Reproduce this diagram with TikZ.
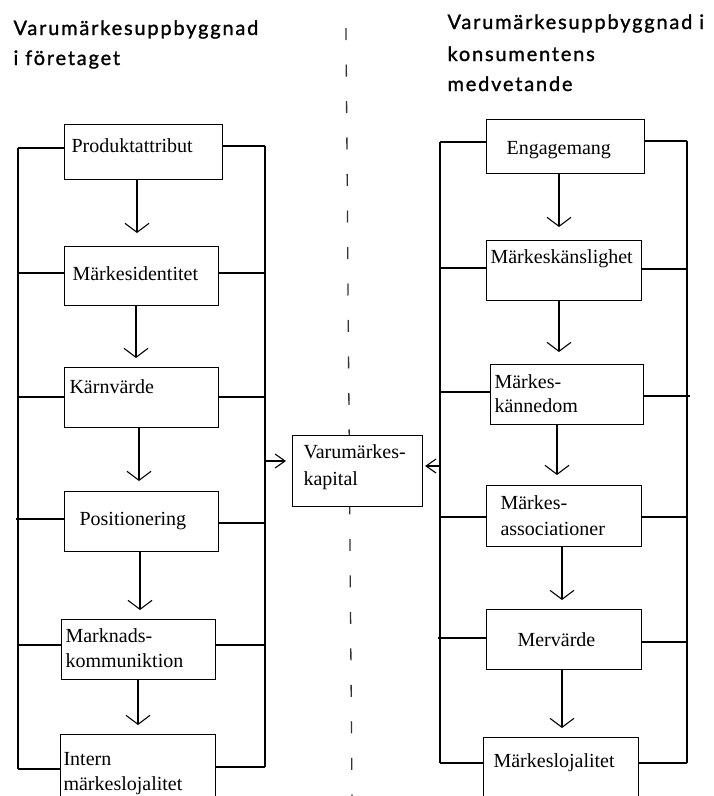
\documentclass[tikz,border=0pt]{standalone}
\usepackage{fontspec}
\setmainfont{Liberation Serif}
\newfontfamily\headfont[LetterSpace=9,FakeBold=1.2]{Lato}
\usetikzlibrary{arrows.meta}
\begin{document}
\begin{tikzpicture}[x=1pt,y=-1pt,
  line width=1.1pt,
  box/.style={draw, fill=white, inner sep=0pt, anchor=north west},
  lbl/.style={anchor=base west, inner sep=0pt, font=\fontsize{20}{24}\selectfont},
  head/.style={anchor=base west, inner sep=0pt, font=\headfont\fontsize{20}{24}\selectfont},
  va/.style={-{Straight Barb[length=9pt,width=24pt]}},
  ha/.style={-{Straight Barb[length=10pt,width=14pt]}}
]
\useasboundingbox (0,0) rectangle (713,796);
\clip (0,0) rectangle (713,796);
% divider
\draw[line width=1.3pt, black!80, dash pattern=on 12pt off 24.5pt] (346,28) -- (352,800);
% headings
\node[head] (hl1) at (13,35) {Varumärkesuppbyggnad};
\node[head] (hl2) at (13,65) {i företaget};
\node[head] (hr1) at (447,29) {Varumärkesuppbyggnad i};
\node[head] (hr2) at (447,61) {konsumentens};
\node[head] (hr3) at (447,91) {medvetande};
% left boxes
\node[box, minimum width=158pt, minimum height=55pt] (b1) at (64,124) {};
\node[box, minimum width=154pt, minimum height=59pt] (b2) at (64,246) {};
\node[box, minimum width=154pt, minimum height=60pt] (b3) at (64,367) {};
\node[box, minimum width=154pt, minimum height=60pt] (b4) at (64,491) {};
\node[box, minimum width=154pt, minimum height=60pt] (b5) at (61,619) {};
\node[box, minimum width=155pt, minimum height=80pt] (b6) at (60,734) {};
\node[lbl] (t1) at (71,152) {Produktattribut};
\node[lbl] (t2) at (72,280) {Märkesidentitet};
\node[lbl] (t3) at (69,393) {Kärnvärde};
\node[lbl] (t4) at (79,525) {Positionering};
\node[lbl] (t5a) at (65,642) {Marknads-};
\node[lbl] (t5b) at (65,667) {kommuniktion};
\node[lbl] (t6a) at (63,765) {Intern};
\node[lbl] (t6b) at (63,790) {märkeslojalitet};
% right boxes
\node[box, minimum width=158pt, minimum height=54pt] (r1) at (486,119) {};
\node[box, minimum width=155pt, minimum height=60pt] (r2) at (486,240) {};
\node[box, minimum width=153pt, minimum height=60pt] (r3) at (490,364) {};
\node[box, minimum width=155pt, minimum height=61pt] (r4) at (486,485) {};
\node[box, minimum width=155pt, minimum height=60pt] (r5) at (486,609) {};
\node[box, minimum width=155pt, minimum height=80pt] (r6) at (483,737) {};
\node[lbl] (s1) at (506,154) {Engagemang};
\node[lbl] (s2) at (490,263) {Märkeskänslighet};
\node[lbl] (s3a) at (494,388) {Märkes-};
\node[lbl] (s3b) at (494,412) {kännedom};
\node[lbl] (s4a) at (500,509) {Märkes-};
\node[lbl] (s4b) at (500,535) {associationer};
\node[lbl] (s5) at (517,646) {Mervärde};
\node[lbl] (s6) at (493,767) {Märkeslojalitet};
% center box
\node[box, minimum width=130pt, minimum height=71pt] (c) at (292,435) {};
\node[lbl] (ca) at (303,458) {Varumärkes-};
\node[lbl] (cb) at (303,485) {kapital};
% rail coordinates left column
\coordinate (LL1) at (18,148);
\coordinate (LL2) at (18,273);
\coordinate (LL3) at (18,397);
\coordinate (LL4) at (16,519);
\coordinate (LL5) at (18,645);
\coordinate (LL6) at (18,769);
\coordinate (LR1) at (265,146);
\coordinate (LR2) at (265,273);
\coordinate (LR3) at (265,397);
\coordinate (LR4) at (265,523);
\coordinate (LR5) at (265,645);
\coordinate (LR6) at (265,767);
\coordinate (LRA) at (265,461);
% rail coordinates right column
\coordinate (RL1) at (440,142);
\coordinate (RL2) at (440,268);
\coordinate (RL3) at (440,392);
\coordinate (RL4) at (440,517);
\coordinate (RL5) at (438,638);
\coordinate (RL6) at (440,763);
\coordinate (RLA) at (440,466);
\coordinate (RR1) at (687,141);
\coordinate (RR2) at (687,269);
\coordinate (RR3) at (690,396);
\coordinate (RR4) at (687,517);
\coordinate (RR5) at (687,642);
\coordinate (RR6) at (687,763);
% rails
\draw (LL1) -- (LL1 |- LL6);
\draw (LR1) -- (LR6);
\draw (RL1) -- (RL6);
\draw (RR1) -- (RR6);
% side links
\foreach \b/\l/\r in {b1/LL1/LR1, b2/LL2/LR2, b3/LL3/LR3, b4/LL4/LR4, b5/LL5/LR5, b6/LL6/LR6}{
  \draw (\l) -- (\b.west |- \l);
  \draw (\b.east |- \r) -- (\r);
}
\foreach \b/\l/\r in {r1/RL1/RR1, r2/RL2/RR2, r3/RL3/RR3, r4/RL4/RR4, r5/RL5/RR5, r6/RL6/RR6}{
  \draw (\l) -- (\b.west |- \l);
  \draw (\b.east |- \r) -- (\r);
}
% vertical arrows left
\draw[va, shorten >=13pt] (b1.south -| 137,0) -- (b2.north -| 137,0);
\draw[va, shorten >=9pt] (b2.south -| 136,0) -- (b3.north -| 136,0);
\draw[va, shorten >=10pt] (b3.south -| 139,0) -- (b4.north -| 139,0);
\draw[va, shorten >=9pt] (b4.south -| 140,0) -- (b5.north -| 140,0);
\draw[va, shorten >=9pt] (b5.south -| 138,0) -- (b6.north -| 138,0);
% vertical arrows right
\draw[va, shorten >=13pt] (r1.south -| 559,0) -- (r2.north -| 559,0);
\draw[va, shorten >=12pt] (r2.south -| 559,0) -- (r3.north -| 559,0);
\draw[va, shorten >=10pt] (r3.south -| 557,0) -- (r4.north -| 557,0);
\draw[va, shorten >=9pt] (r4.south -| 562,0) -- (r5.north -| 562,0);
\draw[va, shorten >=9pt] (r5.south -| 562,0) -- (r6.north -| 562,0);
% arrows to center
\draw[ha, shorten >=6pt] (LRA) -- (c.west |- LRA);
\draw[ha, shorten >=2pt] (RLA) -- (c.east |- RLA);
\end{tikzpicture}
\end{document}
